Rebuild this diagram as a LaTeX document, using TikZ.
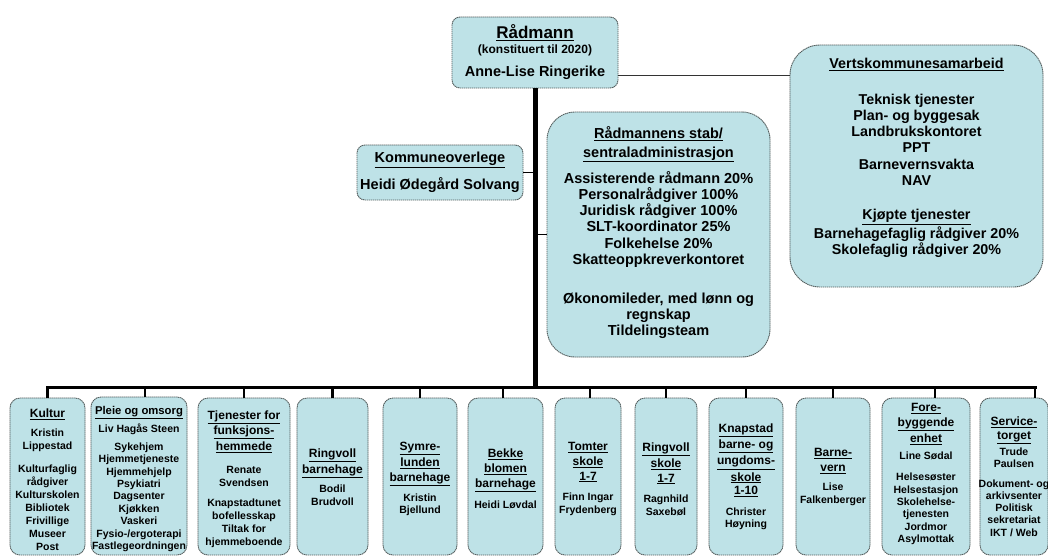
\documentclass[tikz,border=0pt]{standalone}
\usepackage{fontspec}
\setmainfont{Liberation Sans}
\definecolor{boxfill}{RGB}{190,226,231}
\definecolor{boxline}{RGB}{85,95,95}
\newcommand{\hd}[1]{{\fontsize{12}{14.5}\selectfont\underline{#1}}}
\newcommand{\hdp}[1]{{\fontsize{11.3}{14}\selectfont\underline{#1}}}
\tikzset{
  orgbox/.style={draw=boxline, line width=0.9pt, dash pattern=on 1.4pt off 0.6pt,
    fill=boxfill, rounded corners=#1, inner sep=0pt},
  orgbox/.default=10pt,
  btext/.style={align=center, inner sep=0pt, font=\fontsize{10.5}{12.6}\selectfont\bfseries},
  ttext/.style={align=center, inner sep=0pt, font=\fontsize{14.5}{16.2}\selectfont\bfseries},
  bus/.style={line width=3pt, black},
  drop/.style={line width=2.5pt, black},
  mainline/.style={line width=5pt, black},
  conn/.style={line width=1.8pt, black},
  thinconn/.style={line width=0.9pt, black!80},
}
\begin{document}
\begin{tikzpicture}[x=1pt,y=-1pt]
\fill[white] (0,0) rectangle (1048,557);
\useasboundingbox (0,0) rectangle (1048,557);

% ---------- top level ----------
\node[orgbox=8pt, minimum width=166pt, minimum height=71pt] (rad) at (535,52.5) {};
\node[align=center, inner sep=0pt, font=\bfseries] (radt) at (rad.center)
  {{\fontsize{17}{16}\selectfont\underline{Rådmann}}\\[3pt]
   {\fontsize{12}{14}\selectfont (konstituert til 2020)}\\[9pt]
   {\fontsize{14.5}{16}\selectfont Anne-Lise Ringerike}};

\node[orgbox=30pt, minimum width=253pt, minimum height=242pt] (vert) at (916.5,166) {};
\node[ttext, font=\fontsize{14.3}{16.3}\selectfont\bfseries] (vertt) at ([yshift=8pt]vert.center)
  {\underline{Vertskommunesamarbeid}\\[19pt]
   Teknisk tjenester\\ Plan- og byggesak\\ Landbrukskontoret\\ PPT\\ Barnevernsvakta\\ NAV\\[18pt]
   \underline{Kjøpte tjenester}\\[0.7pt]
   Barnehagefaglig rådgiver 20\%\\ Skolefaglig rådgiver 20\%};

\node[orgbox=8pt, minimum width=166pt, minimum height=55pt] (kom) at (440,172.5) {};
\node[ttext] (komt) at (kom.center)
  {\underline{Kommuneoverlege}\\[9pt] Heidi Ødegård Solvang};

\node[orgbox=28pt, minimum width=223pt, minimum height=245pt] (stab) at (658.5,234.5) {};
\node[ttext] (stabt) at ([yshift=2pt]stab.center)
  {\underline{Rådmannens stab/}\\[3pt] \underline{sentraladministrasjon}\\[8pt]
   Assisterende rådmann 20\%\\ Personalrådgiver 100\%\\ Juridisk rådgiver 100\%\\
   SLT-koordinator 25\%\\ Folkehelse 20\%\\ Skatteoppkreverkontoret\\[23pt]
   Økonomileder, med lønn og\\ regnskap\\ Tildelingsteam};

% ---------- bottom level ----------
\node[orgbox, minimum width=75pt, minimum height=157pt] (b1) at (47.5,476.5) {};
\node[orgbox, minimum width=96pt, minimum height=158pt] (b2) at (139,476) {};
\node[orgbox, minimum width=92pt, minimum height=157pt] (b3) at (244,476.5) {};
\node[orgbox, minimum width=71pt, minimum height=157pt] (b4) at (332.5,476.5) {};
\node[orgbox, minimum width=74pt, minimum height=157pt] (b5) at (420,476.5) {};
\node[orgbox, minimum width=75pt, minimum height=157pt] (b6) at (505.5,476.5) {};
\node[orgbox, minimum width=66pt, minimum height=157pt] (b7) at (588,476.5) {};
\node[orgbox, minimum width=62pt, minimum height=157pt] (b8) at (666,476.5) {};
\node[orgbox, minimum width=74pt, minimum height=157pt] (b9) at (746,476.5) {};
\node[orgbox, minimum width=74pt, minimum height=157pt] (b10) at (833,476.5) {};
\node[orgbox, minimum width=88pt, minimum height=157pt] (b11) at (926,476.5) {};
\node[orgbox, minimum width=68pt, minimum height=157pt] (b12) at (1014,476.5) {};

\node[btext, font=\fontsize{10.5}{13}\selectfont\bfseries] (t1) at ([yshift=-3pt]b1.center)
  {\hd{Kultur}\\[6pt] Kristin\\ Lippestad\\[10pt] Kulturfaglig\\ rådgiver\\ Kulturskolen\\ Bibliotek\\ Frivillige\\ Museer\\ Post};
\node[btext, font=\fontsize{10.5}{12.4}\selectfont\bfseries] (t2) at ([yshift=-3pt]b2.center)
  {\hdp{Pleie og omsorg}\\[3.6pt] Liv Hagås Steen\\[5.6pt] Sykehjem\\ Hjemmetjeneste\\ Hjemmehjelp\\ Psykiatri\\ Dagsenter\\ Kjøkken\\ Vaskeri\\ Fysio-/ergoterapi\\ Fastlegeordningen};
\node[btext, font=\fontsize{10.5}{13}\selectfont\bfseries] (t3) at ([yshift=-2.5pt]b3.center)
  {\hd{Tjenester for}\\[1.5pt] \hd{funksjons-}\\[1.5pt] \hd{hemmede}\\[10pt] Renate\\ Svendsen\\[7pt] Knapstadtunet\\ bofellesskap\\ Tiltak for\\ hjemmeboende};
\node[btext] (t4) at ([yshift=-0.5pt]b4.center)
  {\hd{Ringvoll}\\[2pt] \hd{barnehage}\\[7pt] Bodil\\ Brudvoll};
\node[btext] (t5) at ([yshift=-2.5pt]b5.center)
  {\hd{Symre-}\\[2pt] \hd{lunden}\\[2pt] \hd{barnehage}\\[7pt] Kristin\\ Bjellund};
\node[btext] (t6) at ([yshift=-2.5pt]b6.center)
  {\hd{Bekke}\\[2pt] \hd{blomen}\\[2pt] \hd{barnehage}\\[9pt] Heidi Løvdal};
\node[btext] (t7) at ([yshift=-2.5pt]b7.center)
  {\hd{Tomter}\\[2pt] \hd{skole}\\[2pt] \hd{1-7}\\[8pt] Finn Ingar\\ Frydenberg};
\node[btext] (t8) at ([yshift=-2.5pt]b8.center)
  {\hd{Ringvoll}\\[2pt] \hd{skole}\\[2pt] \hd{1-7}\\[8pt] Ragnhild\\ Saxebøl};
\node[btext] (t9) at ([yshift=-0.5pt]b9.center)
  {\hd{Knapstad}\\[2pt] \hd{barne- og}\\[2pt] \hd{ungdoms-}\\[2pt] \hd{skole}\\[1pt] \hd{1-10}\\[8pt] Christer\\ Høyning};
\node[btext] (t10) at ([yshift=-0.5pt]b10.center)
  {\hd{Barne-}\\[2pt] \hd{vern}\\[7pt] Lise\\ Falkenberger};
\node[btext, font=\fontsize{10.5}{12.3}\selectfont\bfseries] (t11) at ([yshift=2.5pt]b11.center)
  {\hd{Fore-}\\[2pt] \hd{byggende}\\[2pt] \hd{enhet}\\[5pt] Line Sødal\\[9pt] Helsesøster\\ Helsestasjon\\ Skolehelse-\\ tjenesten\\ Jordmor\\ Asylmottak};
\node[btext, font=\fontsize{10.5}{12.3}\selectfont\bfseries] (t12) at (b12.center)
  {\hd{Service-}\\[1.5pt] \hd{torget}\\[4pt] Trude\\ Paulsen\\[7pt] Dokument- og\\ arkivsenter\\ Politisk\\ sekretariat\\ IKT / Web};

% ---------- connectors ----------
\coordinate (bus) at (534,387);
\coordinate (d1) at (b1.north);
\coordinate (d2) at ([xshift=6pt]b2.north);
\coordinate (d3) at (b3.north);
\coordinate (d4) at (b4.north);
\coordinate (d5) at (b5.north);
\coordinate (d6) at ([xshift=-2.5pt]b6.north);
\coordinate (d7) at ([xshift=2pt]b7.north);
\coordinate (d8) at (b8.north);
\coordinate (d9) at (b9.north);
\coordinate (d10) at (b10.north);
\coordinate (d11) at ([xshift=9pt]b11.north);
\coordinate (d12) at ([xshift=21pt]b12.north);

\draw[mainline] (rad.south) -- (rad.south |- bus);
\draw[bus, line cap=rect] (d1 |- bus) -- (d12 |- bus);
\foreach \i in {1,...,12} {
  \draw[drop] (d\i) -- (d\i |- bus);
}
\draw[conn] (kom.east) -- (kom.east -| rad.south);
\draw[conn] (stab.west) -- (stab.west -| rad.south);
\coordinate (rv) at ([yshift=-22.5pt]rad.east);
\draw[thinconn] (rv) -- (rv -| vert.west);
\end{tikzpicture}
\end{document}
